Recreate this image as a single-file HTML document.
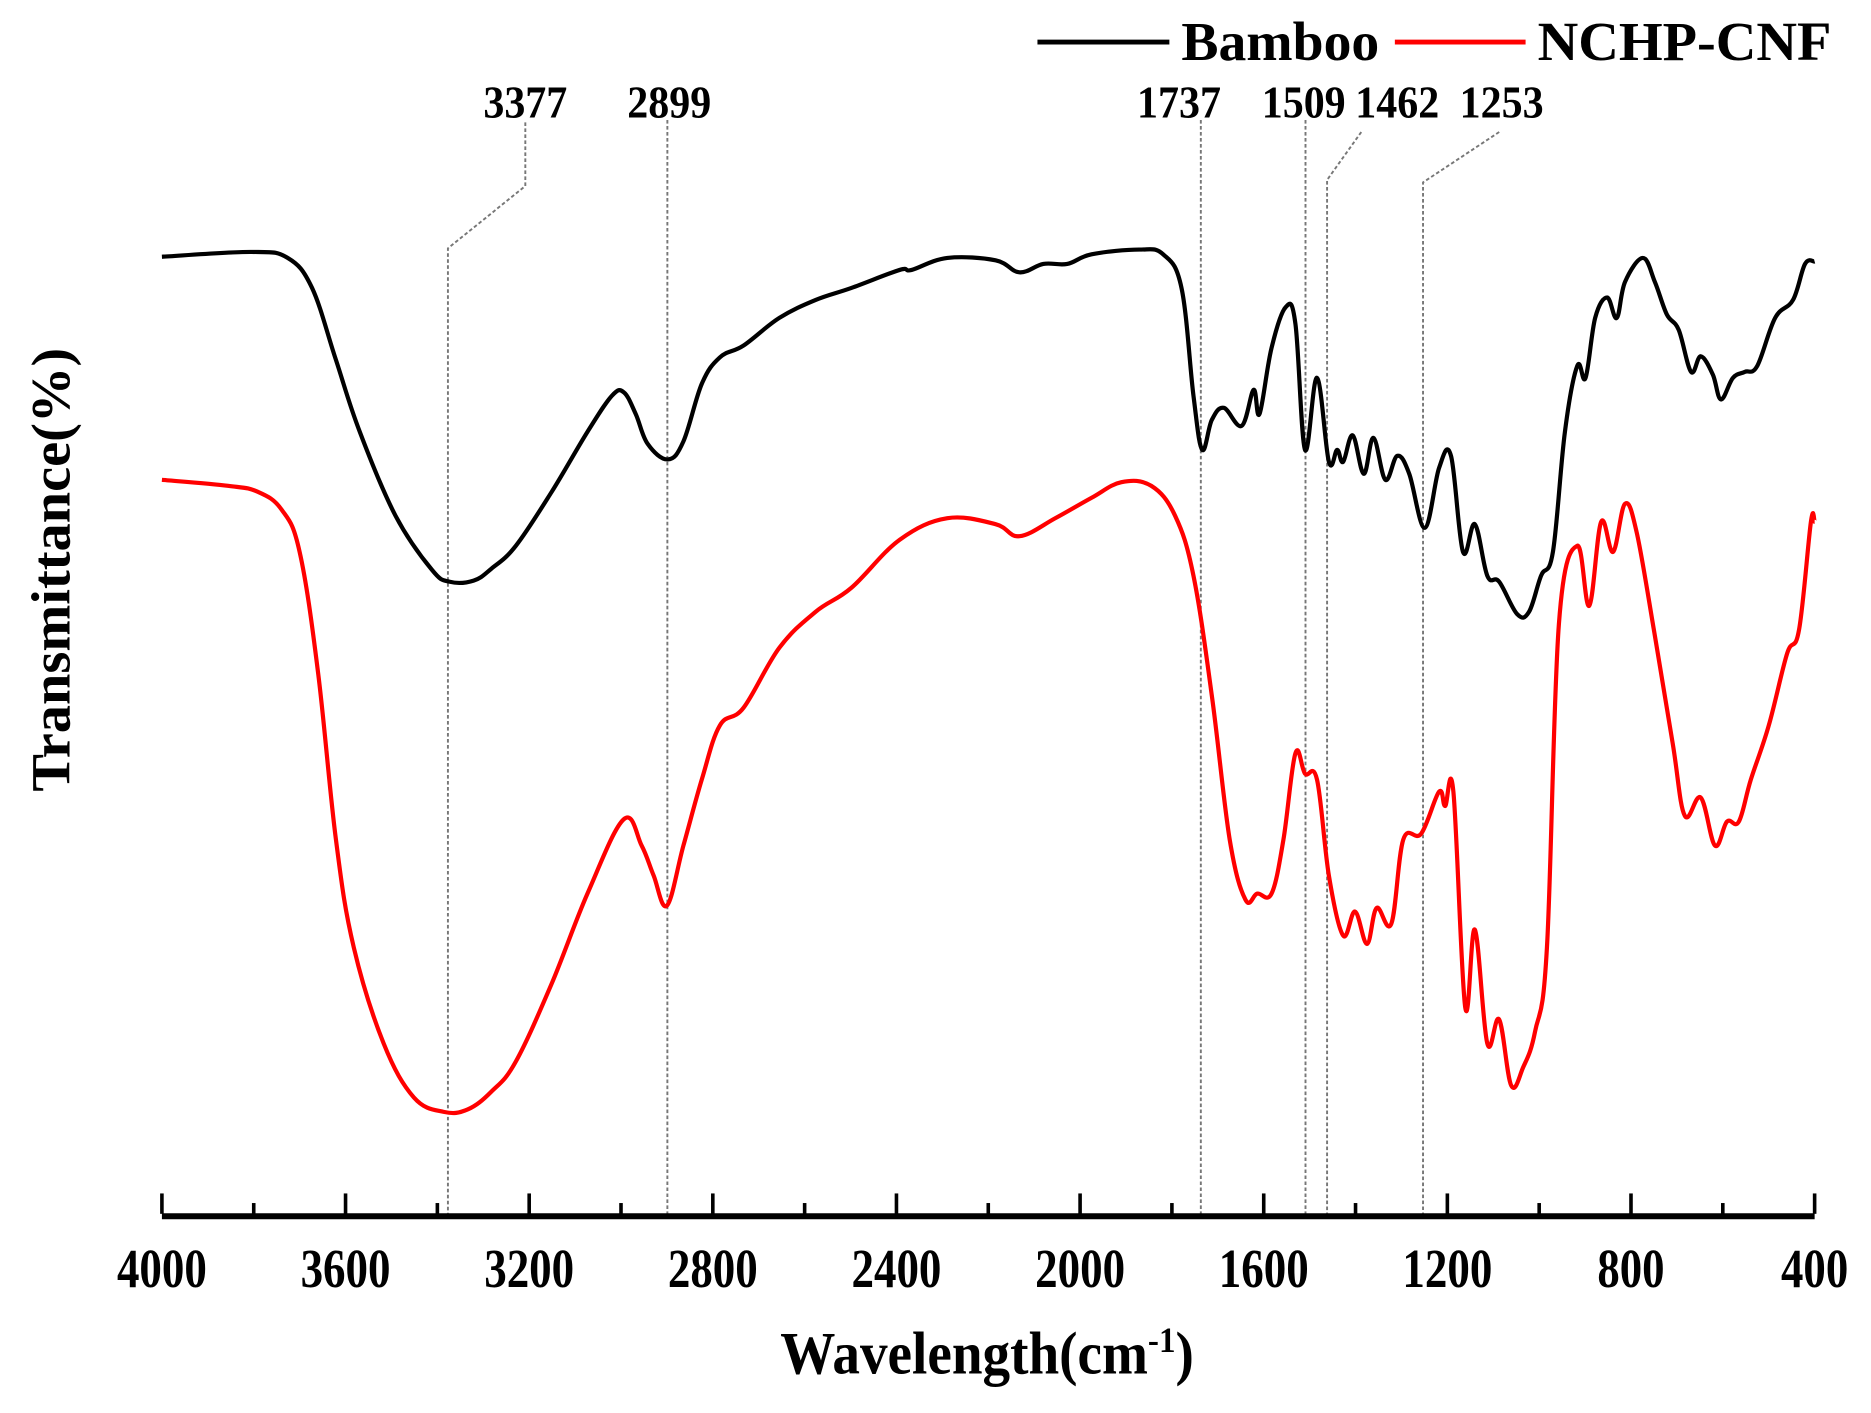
<!DOCTYPE html>
<html><head><meta charset="utf-8"><style>
html,body{margin:0;padding:0;background:#fff;}
svg{display:block;}
text{font-family:"Liberation Serif",serif;font-weight:bold;fill:#000;}
</style></head><body>
<svg id="chart" width="1871" height="1413" viewBox="0 0 1560 1178" xmlns="http://www.w3.org/2000/svg">
<g id="annot"></g>
<g id="series"></g>
<g id="axis"></g>
<text transform="translate(58,475) rotate(-90)" text-anchor="middle" font-size="46" textLength="370" lengthAdjust="spacingAndGlyphs">Transmittance(%)</text>
<g transform="translate(823,1145) scale(0.92,1)"><text x="0" y="0" text-anchor="middle" font-size="50">Wavelength(cm<tspan dy="-18" font-size="30">-1</tspan><tspan dy="18">)</tspan></text></g>
<g>
<line x1="865" y1="35" x2="975" y2="35" stroke="#000" stroke-width="4"/>
<text x="985" y="50" font-size="46" textLength="165" lengthAdjust="spacingAndGlyphs">Bamboo</text>
<line x1="1163" y1="35" x2="1272" y2="35" stroke="#f00" stroke-width="4"/>
<text x="1282" y="50" font-size="46" textLength="245" lengthAdjust="spacingAndGlyphs">NCHP-CNF</text>
</g>
</svg>
<script>
const bambooWn=[4000,3804,3726,3673,3621,3569,3491,3412,3373,3321,3282,3229,3151,3073,3020,2994,2968,2942,2898,2864,2824,2785,2733,2655,2576,2498,2393,2367,2289,2184,2132,2080,2028,1975,1871,1819,1779,1753,1734,1713,1687,1648,1622,1609,1583,1552,1531,1510,1484,1458,1440,1427,1406,1382,1361,1335,1309,1283,1249,1218,1192,1166,1140,1113,1087,1048,1022,996,970,944,917,899,878,852,831,813,774,748,722,696,669,648,622,604,578,552,525,486,447,421,400];
const bambooT=[798,802,797,772,712,652,582,537,527,528,538,557,602,652,682,685,667,642,629,644,692,714,724,747,762,772,787,787,797,795,785,792,792,800,804,800,772,682,637,662,672,657,687,667,722,756,742,637,697,627,637,627,649,617,647,612,632,617,572,622,632,552,575,532,527,500,502,532,552,652,707,697,747,764,747,777,797,777,750,737,702,715,700,679,697,702,707,747,762,792,794];
const nchpWn=[4000,3856,3791,3739,3700,3660,3621,3582,3517,3451,3386,3334,3282,3229,3151,3073,2994,2955,2929,2900,2864,2824,2785,2733,2655,2576,2498,2393,2289,2184,2132,2054,1975,1910,1845,1793,1753,1713,1674,1640,1614,1583,1557,1531,1510,1484,1458,1427,1401,1375,1354,1322,1296,1257,1218,1205,1187,1161,1140,1113,1087,1061,1035,1009,983,957,917,891,865,839,813,787,748,709,683,648,617,591,565,539,500,460,434,408,400];
const nchpT=[612,607,602,587,552,452,312,222,142,97,85,87,102,127,192,267,329,307,282,257,307,362,407,422,472,502,522,562,580,575,565,580,597,610,607,582,532,432,312,262,267,267,312,384,367,362,282,232,252,225,255,242,312,317,352,340,352,172,237,142,162,107,122,152,222,492,557,507,577,552,592,567,482,392,332,347,307,327,327,362,407,467,487,577,577];
const tickLabels=[4000,3600,3200,2800,2400,2000,1600,1200,800,400];
const peaks=[3377,2899,1737,1509,1462,1253];

const NS='http://www.w3.org/2000/svg';
const X0=135,X1=1513,Y0=1012;
function xS(w){return X0+(4000-w)*(X1-X0)/3600;}
function yS(v){return Y0-v;}
function mk(tag,attrs,parent){const e=document.createElementNS(NS,tag);for(const k in attrs)e.setAttribute(k,attrs[k]);parent.appendChild(e);return e;}

const ser=document.getElementById('series');
function drawSeries(wn,t,color,name){
  const P=wn.map((w,i)=>[xS(w),yS(t[i])]);
  let d='M'+P[0][0].toFixed(1)+','+P[0][1].toFixed(1);
  const k=0.18;
  for(let i=0;i<P.length-1;i++){
    const p0=P[Math.max(0,i-1)],p1=P[i],p2=P[i+1],p3=P[Math.min(P.length-1,i+2)];
    const c1=[p1[0]+(p2[0]-p0[0])*k,p1[1]+(p2[1]-p0[1])*k];
    const c2=[p2[0]-(p3[0]-p1[0])*k,p2[1]-(p3[1]-p1[1])*k];
    d+='C'+c1[0].toFixed(1)+','+c1[1].toFixed(1)+' '+c2[0].toFixed(1)+','+c2[1].toFixed(1)+' '+p2[0].toFixed(1)+','+p2[1].toFixed(1);
  }
  const p=mk('path',{d:d,fill:'none',stroke:color,'stroke-width':3.5,'stroke-linejoin':'round'},ser);
  
  
}
drawSeries(bambooWn,bambooT,'#000','bamboo-spectrum');
drawSeries(nchpWn,nchpT,'#f00','nchp-cnf-spectrum');

const ax=document.getElementById('axis');
const al=mk('line',{x1:X0,y1:Y0+2,x2:X1,y2:Y0+2,stroke:'#000','stroke-width':5},ax);


for(let w=4000;w>=400;w-=200){
  const major=(w%400===0);
  const t=mk('line',{x1:xS(w),y1:Y0,x2:xS(w),y2:Y0-(major?17:9),stroke:'#000','stroke-width':3},ax);
  
  
}
tickLabels.forEach(v=>{
  const len=String(v).length===4?75:56;
  const tx=mk('text',{x:xS(v)-len/2,y:1073,'font-size':46,textLength:len,lengthAdjust:'spacingAndGlyphs'},ax);
  tx.textContent=v;
  
  
});

const an=document.getElementById('annot');
const labelPos={3377:[438,88],2899:[558,88],1737:[983,88],1509:[1087,88],1462:[1165,88],1253:[1252,88]};
peaks.forEach(p=>{
  const x=xS(p);
  let pts;
  if(p===3377)pts=[[438,102],[438,155],[x,207],[x,Y0]];
  else if(p===1462)pts=[[1135,110],[x,150],[x,Y0]];
  else if(p===1253)pts=[[1250,110],[x,152],[x,Y0]];
  else pts=[[x,100],[x,Y0]];
  const ln=mk('polyline',{points:pts.map(a=>a.join(',')).join(' '),fill:'none',stroke:'#777','stroke-width':1.6,'stroke-dasharray':'3,2'},an);
  
  
  const lp=labelPos[p];
  const tx=mk('text',{x:lp[0]-35,y:lp[1]+10,'font-size':38,textLength:70,lengthAdjust:'spacingAndGlyphs'},an);
  tx.textContent=p;
  
  
});
</script>
</body></html>
